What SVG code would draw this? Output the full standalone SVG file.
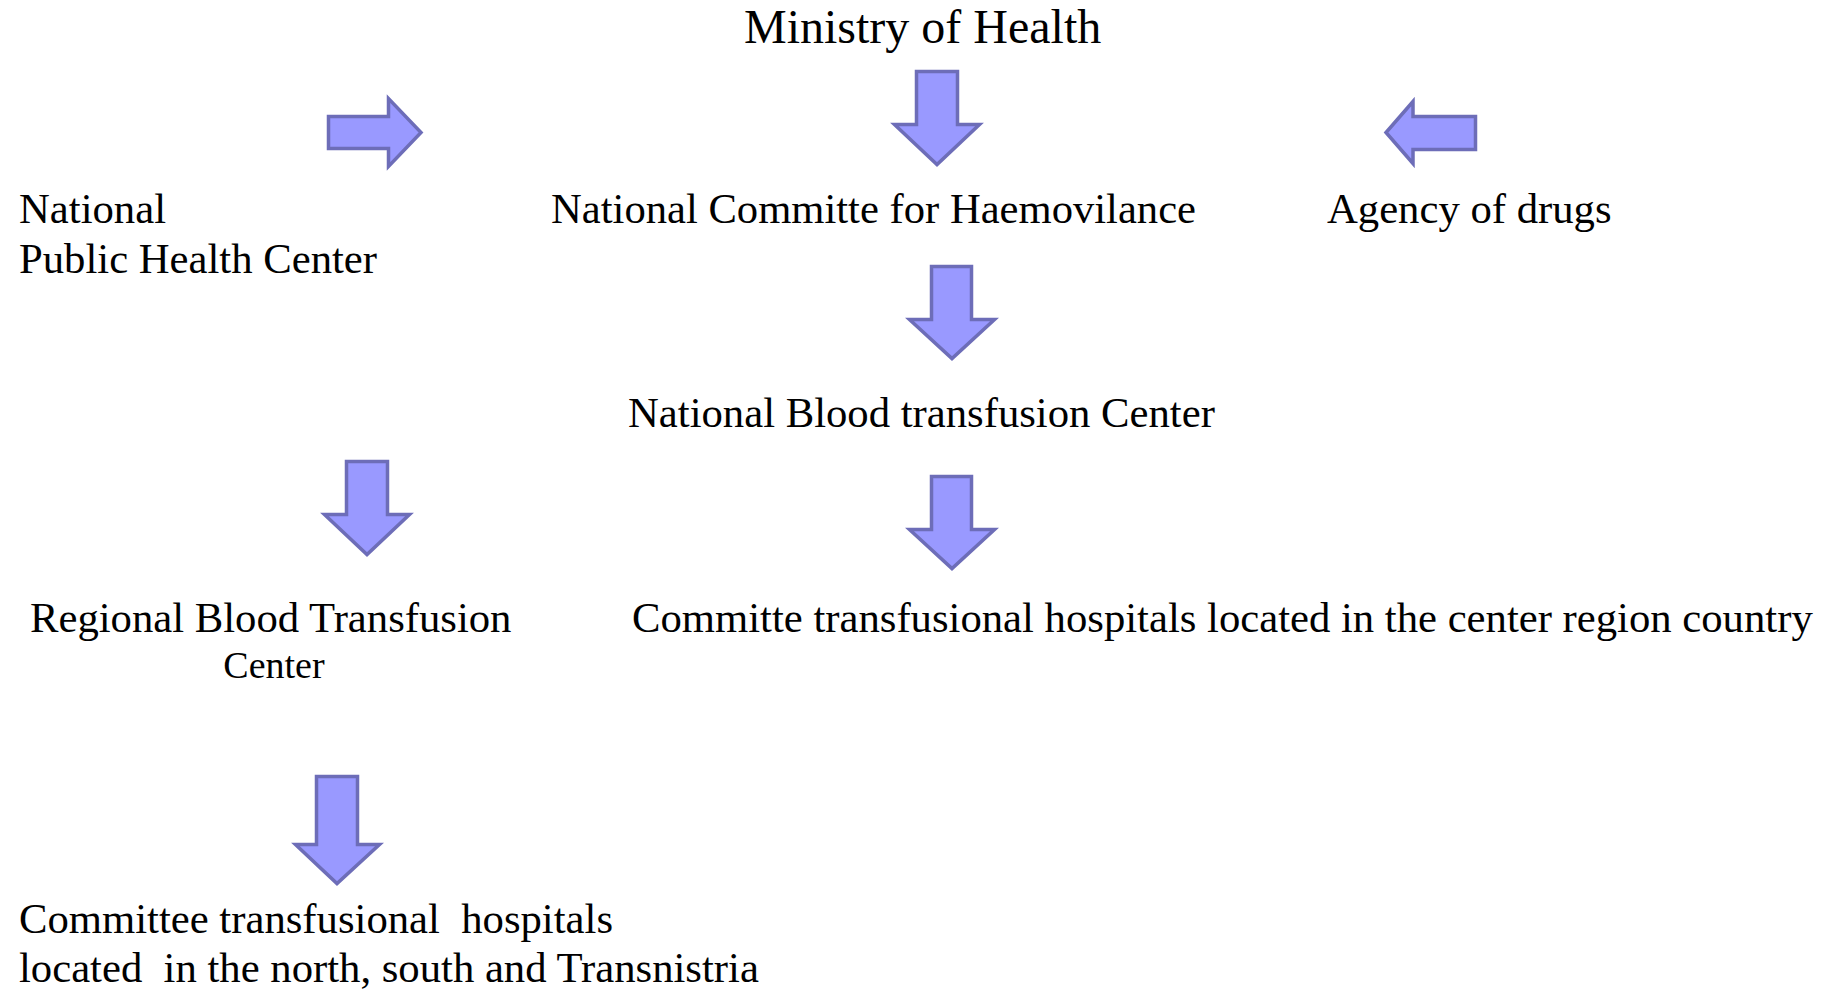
<svg xmlns="http://www.w3.org/2000/svg" width="1835" height="990" viewBox="0 0 1835 990">
<style>
.t{font-family:"Liberation Serif","Times New Roman",serif;fill:#000;font-size:42.7px}
.big{font-size:48px}
.small{font-size:38px}
.arr{fill:#9999ff;stroke:#6d6db8;stroke-width:3.5;stroke-linejoin:miter}
</style>
<rect width="1835" height="990" fill="#fff"/>
<g id="connectors">
<polygon class="arr" points="328.5,116.5 388.5,116.5 388.5,98.5 421,132.5 388.5,166.5 388.5,148.5 328.5,148.5"/>
<polygon class="arr" points="916.5,71.5 957.5,71.5 957.5,124.5 979.5,124.5 937,164.5 894.5,124.5 916.5,124.5"/>
<polygon class="arr" points="1475.5,116.5 1413,116.5 1413,101.5 1386,132.5 1413,163.5 1413,149.5 1475.5,149.5"/>
<polygon class="arr" points="931.5,266.5 971.5,266.5 971.5,319.5 994.5,319.5 952,358.5 909.5,319.5 931.5,319.5"/>
<polygon class="arr" points="346.5,461.5 387.5,461.5 387.5,514.5 409.5,514.5 367,554.5 324.5,514.5 346.5,514.5"/>
<polygon class="arr" points="931.5,476.5 971.5,476.5 971.5,529.5 994.5,529.5 952,568.5 909.5,529.5 931.5,529.5"/>
<polygon class="arr" points="316.5,776.5 357.5,776.5 357.5,844.5 379.5,844.5 337,883.5 295.5,844.5 316.5,844.5"/>
</g>
<g id="ministry"><text class="t big" x="744" y="43">Ministry of Health</text></g>
<g id="nphc"><text class="t" x="19" y="223">National</text><text class="t" x="19" y="273">Public Health Center</text></g>
<g id="nch"><text class="t" x="551" y="223" font-size="45" textLength="645" lengthAdjust="spacingAndGlyphs">National Committe for Haemovilance</text></g>
<g id="agency"><text class="t" x="1327" y="223">Agency of drugs</text></g>
<g id="nbtc"><text class="t" x="628" y="427">National Blood transfusion Center</text></g>
<g id="rbtc"><text class="t" x="30" y="632">Regional Blood Transfusion</text><text class="t small" x="274" y="678" text-anchor="middle">Center</text></g>
<g id="ctc"><text class="t" x="632" y="632">Committe transfusional hospitals located in the center region country</text></g>
<g id="ctn"><text class="t" x="19" y="933" xml:space="preserve">Committee transfusional  hospitals</text><text class="t" x="19" y="982" xml:space="preserve">located  in the north, south and Transnistria</text></g>
</svg>
